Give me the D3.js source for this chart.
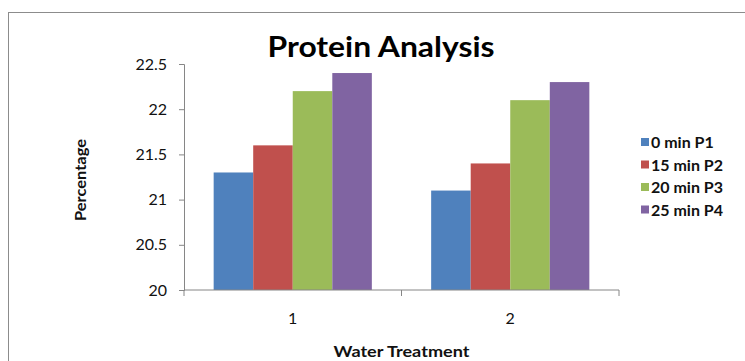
<!DOCTYPE html>
<html>
<head>
<meta charset="utf-8">
<script src="https://cdn.jsdelivr.net/npm/d3@7"></script>
<style>
  body { margin: 0; background: #fff; }
  svg { display: block; font-family: Lato, "Open Sans", sans-serif; }
</style>
</head>
<body>
<div id="chart"></div>
<script>
const groups = ["1", "2"];
const seriesNames = ["0 min P1", "15 min P2", "20 min P3", "25 min P4"];
const p1 = [21.3, 21.1];
const p2 = [21.6, 21.4];
const p3 = [22.2, 22.1];
const p4 = [22.4, 22.3];
const yTicks = [20, 20.5, 21, 21.5, 22, 22.5];
const colors = ["#4f81bd", "#c0504d", "#9bbb59", "#8064a2"];

const seriesValues = [p1, p2, p3, p4];
const rows = groups.map((g, i) => ({
  group: g,
  values: seriesNames.map((s, j) => ({ key: s, value: seriesValues[j][i] }))
}));

const width = 745, height = 361;
const plot = { left: 184, right: 619, top: 64, bottom: 290 };

const svg = d3.select("#chart").append("svg")
  .attr("width", width)
  .attr("height", height);

// chart area border
svg.append("rect")
  .attr("x", 8.5).attr("y", 12.5)
  .attr("width", 760).attr("height", 380)
  .attr("fill", "#fff")
  .attr("stroke", "#8c8c8c");

const x0 = d3.scaleBand()
  .domain(groups)
  .range([plot.left, plot.right])
  .padding(0);

const x1 = d3.scaleBand()
  .domain(seriesNames)
  .range([0, x0.bandwidth()])
  .paddingInner(0)
  .paddingOuter(0.75);

const y = d3.scaleLinear()
  .domain([20, 22.5])
  .range([plot.bottom, plot.top]);

// bars
svg.append("g")
  .selectAll("g")
  .data(rows)
  .enter()
  .append("g")
  .attr("transform", (d) => `translate(${x0(d.group)},0)`)
  .selectAll("rect")
  .data((d) => d.values)
  .enter()
  .append("rect")
  .attr("x", (d) => x1(d.key))
  .attr("y", (d) => y(d.value))
  .attr("width", x1.bandwidth())
  .attr("height", (d) => y(20) - y(d.value))
  .attr("fill", (d, i) => colors[i]);

// y axis
const yAxis = svg.append("g")
  .attr("transform", `translate(${plot.left},0)`)
  .call(d3.axisLeft(y).tickValues(yTicks).tickSize(5).tickPadding(12)
    .tickFormat((d) => d3.format("")(d)));
yAxis.select(".domain").attr("stroke", "#868686");
yAxis.selectAll(".tick line").attr("stroke", "#868686");
yAxis.selectAll(".tick text")
  .attr("fill", "#111")
  .style("font-size", "16px")
  .style("font-family", "Lato, sans-serif");

// x axis (ticks at category boundaries)
const xAxisG = svg.append("g")
  .attr("transform", `translate(0,${plot.bottom})`);
xAxisG.append("line")
  .attr("x1", plot.left).attr("x2", plot.right)
  .attr("stroke", "#868686");
const edges = [plot.left].concat(groups.map((g) => x0(g) + x0.bandwidth()));
xAxisG.selectAll(".edge")
  .data(edges)
  .enter()
  .append("line")
  .attr("class", "edge")
  .attr("x1", (d) => d).attr("x2", (d) => d)
  .attr("y1", 0).attr("y2", 6)
  .attr("stroke", "#868686");
xAxisG.selectAll(".lbl")
  .data(groups)
  .enter()
  .append("text")
  .attr("class", "lbl")
  .attr("x", (d) => x0(d) + x0.bandwidth() / 2)
  .attr("y", 34)
  .attr("text-anchor", "middle")
  .attr("fill", "#111")
  .style("font-size", "16px")
  .text((d) => d);

// title
svg.append("text")
  .attr("x", 381)
  .attr("y", 57)
  .attr("text-anchor", "middle")
  .attr("font-weight", "bold")
  .attr("fill", "#000")
  .attr("textLength", 227)
  .attr("lengthAdjust", "spacingAndGlyphs")
  .style("font-size", "28px")
  .text("Protein Analysis");

// axis titles
svg.append("text")
  .attr("x", (plot.left + plot.right) / 2)
  .attr("y", 357)
  .attr("text-anchor", "middle")
  .attr("font-weight", "bold")
  .attr("fill", "#111")
  .attr("textLength", 136)
  .attr("lengthAdjust", "spacingAndGlyphs")
  .style("font-size", "16px")
  .text("Water Treatment");

svg.append("text")
  .attr("transform", "translate(86,180) rotate(-90)")
  .attr("text-anchor", "middle")
  .attr("font-weight", "bold")
  .attr("fill", "#111")
  .attr("textLength", 82)
  .attr("lengthAdjust", "spacingAndGlyphs")
  .style("font-size", "15px")
  .text("Percentage");

// legend
const legend = svg.append("g")
  .selectAll("g")
  .data(seriesNames)
  .enter()
  .append("g")
  .attr("transform", (d, i) => `translate(641,${143 + i * 22.5})`);
legend.append("rect")
  .attr("x", 0).attr("y", -5)
  .attr("width", 8).attr("height", 8)
  .attr("fill", (d, i) => colors[i]);
legend.append("text")
  .attr("x", 10)
  .attr("y", 5)
  .attr("fill", "#111")
  .attr("font-weight", "bold")
  .style("font-size", "16px")
  .text((d) => d);
</script>
</body>
</html>
